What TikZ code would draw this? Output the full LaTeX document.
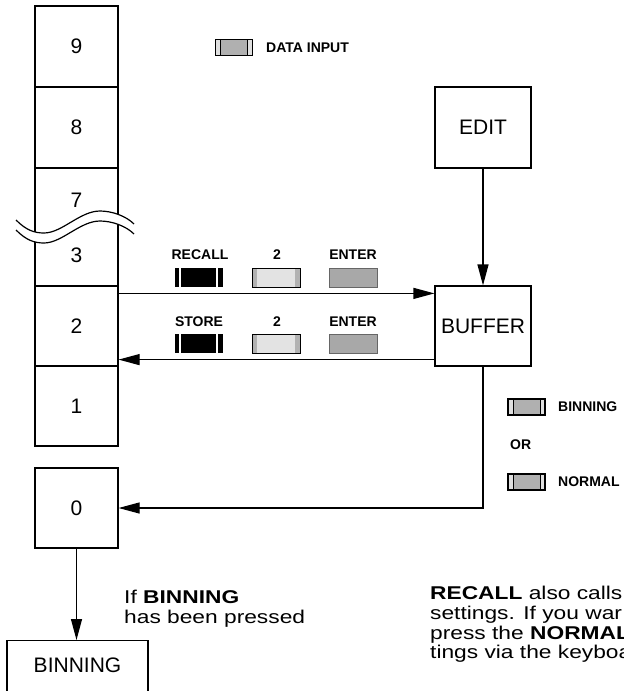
\documentclass[tikz,border=0pt]{standalone}
\usepackage{fontspec}
\setmainfont{Liberation Sans}
\newfontfamily\widefont[FakeStretch=1.23]{Liberation Sans}
\usetikzlibrary{arrows.meta}
\begin{document}
\begin{tikzpicture}[x=1pt,y=-1pt,
  box/.style={draw, line width=1.2pt, inner sep=0pt, font=\fontsize{21}{24}\selectfont},
  colbox/.style={box, minimum width=83pt, minimum height=80pt},
  bigtxt/.style={inner sep=0pt, font=\fontsize{21}{24}\selectfont},
  lbl/.style={font=\bfseries\fontsize{14}{16}\selectfont, inner sep=0pt},
  bt/.style={font=\widefont\fontsize{18.5}{20}\selectfont, inner sep=0pt, anchor=base west},
  arr/.style={line width=1.2pt, -{Triangle[length=21pt,width=11pt]}},
  keybase/.style={minimum width=48pt, minimum height=19pt, inner sep=0pt},
  keyblack/.style={keybase, fill=black,
    path picture={
      \draw[white,line width=1.6pt] ([xshift=5pt]path picture bounding box.south west) -- ([xshift=5pt]path picture bounding box.north west);
      \draw[white,line width=1.3pt] ([xshift=-6pt]path picture bounding box.south east) -- ([xshift=-6pt]path picture bounding box.north east);}},
  keylight/.style={keybase, fill=gray!22, draw=black, line width=1pt,
    path picture={
      \fill[gray!60] (path picture bounding box.south west) rectangle ([xshift=5pt]path picture bounding box.north west);
      \fill[gray!60] ([xshift=-5pt]path picture bounding box.south east) rectangle (path picture bounding box.north east);}},
  keydark/.style={keybase, fill=gray!68, draw=gray!80!black, line width=0.6pt},
  keylegend/.style={minimum width=37pt, minimum height=16pt, inner sep=0pt, fill=gray!62, draw=black, line width=1.1pt,
    path picture={
      \fill[gray!25] (path picture bounding box.south west) rectangle ([xshift=5pt]path picture bounding box.north west);
      \fill[gray!25] ([xshift=-5pt]path picture bounding box.south east) rectangle (path picture bounding box.north east);
      \draw[black,line width=0.8pt] ([xshift=5pt]path picture bounding box.south west) -- ([xshift=5pt]path picture bounding box.north west);
      \draw[black,line width=0.8pt] ([xshift=-5pt]path picture bounding box.south east) -- ([xshift=-5pt]path picture bounding box.north east);}}
]
\useasboundingbox (0,0) rectangle (624,691);
\clip (0,0) rectangle (624,691);

% column of memory boxes
\node[colbox, minimum height=81pt] (b9) at (76.5,46.5) {9};
\node[colbox, minimum height=81pt] (b8) at (76.5,127.5) {8};
\node[box, minimum width=83pt, minimum height=118pt] (b73) at (76.5,227) {};
\node[bigtxt] (t7) at (76.5,200) {7};
\node[bigtxt] (t3) at (76.5,255) {3};
\node[colbox] (b2) at (76.5,326) {2};
\node[colbox] (b1) at (76.5,406) {1};
\node[colbox] (b0) at (76.5,508) {0};

% break mark
\fill[white] (16,220) .. controls (26,230) and (34,233) .. (44,233)
  .. controls (62,233) and (80,211) .. (100,211)
  .. controls (112,211) and (126,216) .. (134,224)
  -- (134,234) .. controls (126,226) and (112,221) .. (100,221)
  .. controls (80,221) and (62,243) .. (44,243)
  .. controls (34,243) and (26,240) .. (16,230) -- cycle;
\foreach \dy in {0,10}{
  \draw[line width=1.2pt] (16,220+\dy) .. controls (26,230+\dy) and (34,233+\dy) .. (44,233+\dy)
    .. controls (62,233+\dy) and (80,211+\dy) .. (100,211+\dy)
    .. controls (112,211+\dy) and (126,216+\dy) .. (134,224+\dy);
}

% edit and buffer
\node[box, minimum width=96pt, minimum height=81pt] (edit) at (483,127.5) {EDIT};
\node[box, minimum width=96pt, minimum height=80pt] (buf) at (483,326) {BUFFER};

% binning box
\node[draw, line width=1.2pt, minimum width=141pt, minimum height=80pt, anchor=north, inner sep=0pt] (binbox) at (77.5,640) {};
\node[bigtxt, anchor=base] (bintxt) at (77.5,672) {BINNING};

% connectors
\draw[arr] ([yshift=-8pt]b2.north east) -- ([yshift=-8pt]b2.north east -| buf.west);
\draw[arr] ([yshift=7pt]buf.south west) -- ([yshift=7pt]buf.south west -| b2.east);
\draw[arr] (edit.south) -- (buf.north);
\draw[arr] (buf.south) |- (b0.east);
\draw[arr] (b0.south) -- (b0.south |- binbox.north);

% key sequences
\node[lbl] (lrecall) at (200,255) {RECALL};
\node[keyblack] (krecall) at (199,277.5) {};
\node[lbl] (l2a) at (277,255) {2};
\node[keylight] (k2a) at (276,277.5) {};
\node[lbl] (lentera) at (353,255) {ENTER};
\node[keydark] (kentera) at (353,277.5) {};

\node[lbl] (lstore) at (199,322) {STORE};
\node[keyblack] (kstore) at (199,343.5) {};
\node[lbl] (l2b) at (277,322) {2};
\node[keylight] (k2b) at (276,343.5) {};
\node[lbl] (lenterb) at (353,322) {ENTER};
\node[keydark] (kenterb) at (353,343.5) {};

% legends
\node[keylegend] (kdata) at (234,47.5) {};
\node[lbl, anchor=west] (ldata) at (266,48) {DATA INPUT};
\node[keylegend] (kbin) at (526.5,407) {};
\node[lbl, anchor=west] (lbin) at (558,407) {BINNING};
\node[lbl, anchor=west] (lor) at (510,445) {OR};
\node[keylegend] (knorm) at (526.5,482) {};
\node[lbl, anchor=west] (lnorm) at (558,482) {NORMAL};

% bottom texts
\node[bt] (if1) at (124,603) {If \textbf{BINNING}};
\node[bt] (if2) at (124,623) {has been pressed};
\node[bt] (p1) at (430,599) {\textbf{RECALL} also calls};
\node[bt] (p2) at (430,619) {settings. If you war};
\node[bt] (p3) at (430,639) {press the \textbf{NORMAL}};
\node[bt] (p4) at (430,658) {tings via the keyboa};
\end{tikzpicture}
\end{document}
